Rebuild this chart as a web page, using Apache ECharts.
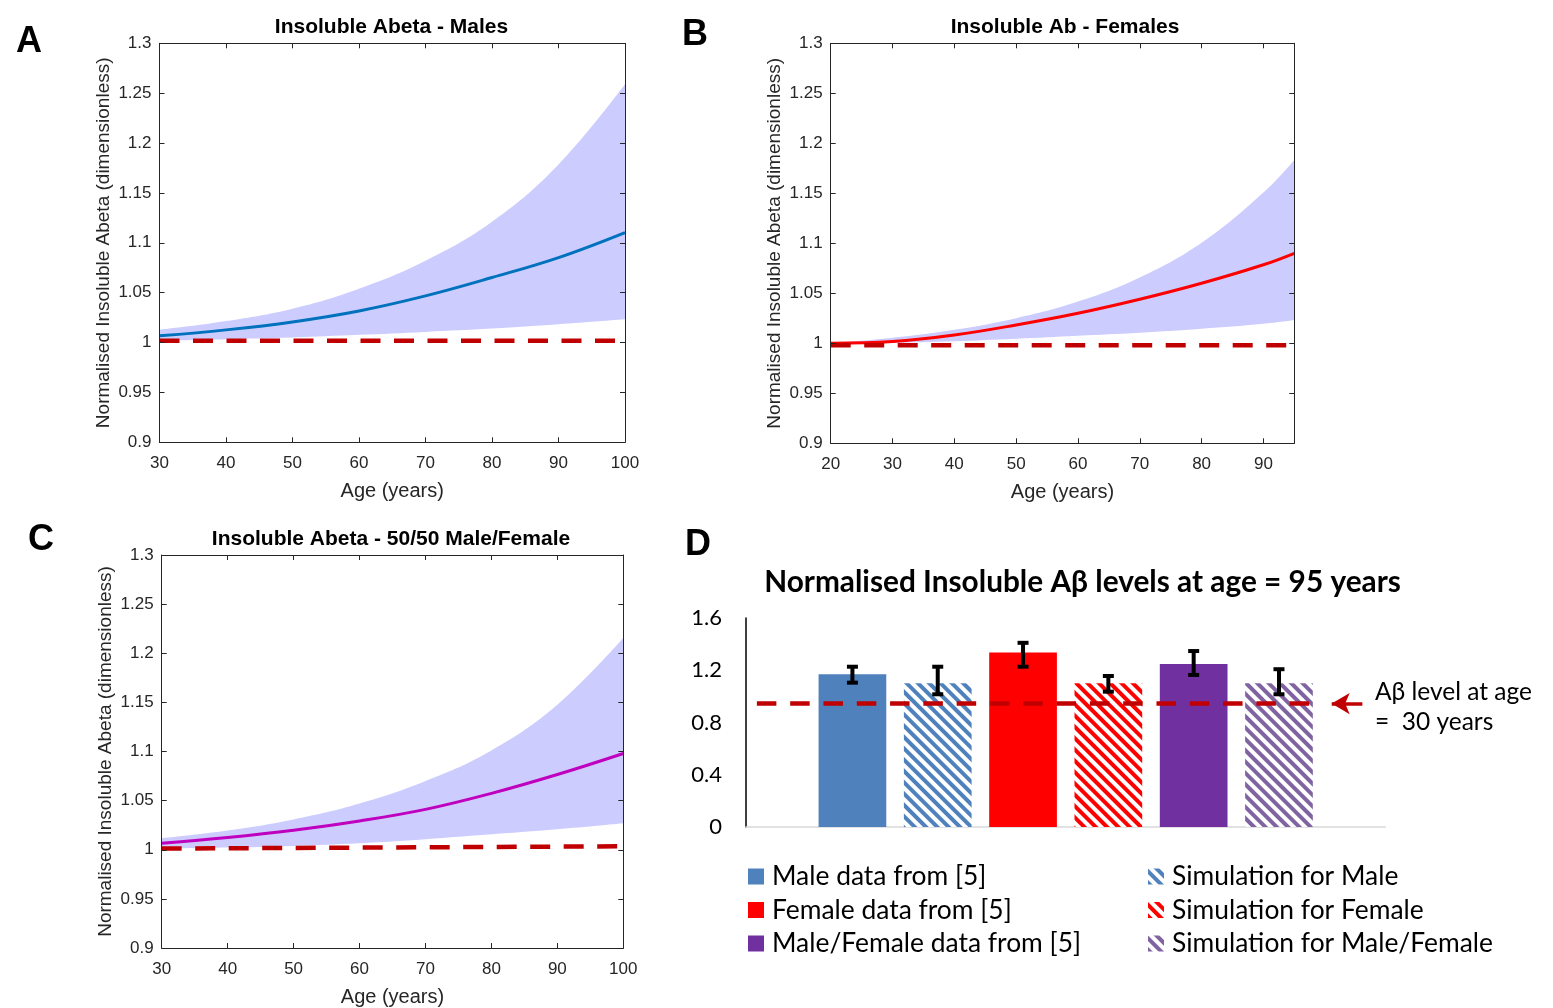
<!DOCTYPE html>
<html><head><meta charset="utf-8">
<script src="https://cdn.jsdelivr.net/npm/echarts@6/dist/echarts.min.js"></script>
<style>html,body{margin:0;padding:0;background:#fff}#c{width:1553px;height:1008px}</style>
</head><body><div id="c"></div><script>
// ---------- Panel A : Males ----------
const ageA = [30, 40, 50, 60, 70, 80, 90, 100];
const meanA = [1.0067, 1.0127, 1.0207, 1.0317, 1.0468, 1.0652, 1.0852, 1.1103];
const upperA = [1.0127, 1.0215, 1.0340, 1.0540, 1.0820, 1.1210, 1.1785, 1.2590];
const lowerA = [1.0017, 1.0033, 1.0050, 1.0077, 1.0107, 1.0140, 1.0184, 1.0234];
const refAgeA = [30, 100];
const refA = [1.0017, 1.0017];
// ---------- Panel B : Females ----------
const ageB = [20, 30, 40, 50, 60, 70, 80, 90, 95];
const meanB = [1.0000, 1.0017, 1.0083, 1.0183, 1.0300, 1.0440, 1.0600, 1.0785, 1.0900];
const upperB = [1.0000, 1.0055, 1.0135, 1.0251, 1.0417, 1.0658, 1.1005, 1.1507, 1.1833];
const lowerB = [0.9990, 1.0003, 1.0020, 1.0045, 1.0075, 1.0105, 1.0145, 1.0195, 1.0233];
const refAgeB = [20, 95];
const refB = [0.998, 0.998];
// ---------- Panel C : 50/50 ----------
const ageC = [30, 40, 50, 60, 70, 80, 90, 100];
const meanC = [1.0066, 1.0124, 1.0198, 1.0293, 1.0411, 1.0574, 1.0766, 1.0980];
const upperC = [1.0117, 1.0196, 1.0309, 1.0470, 1.0699, 1.1010, 1.1475, 1.2154];
const lowerC = [1.0012, 1.0022, 1.0039, 1.0066, 1.0107, 1.0157, 1.0208, 1.0269];
const refAgeC = [30, 100];
const refC = [1.0012, 1.0035];
// ---------- Panel D : bars at age 95 ----------
const barNames = ['Male data from [5]', 'Simulation for Male', 'Female data from [5]',
  'Simulation for Female', 'Male/Female data from [5]', 'Simulation for Male/Female'];
const barValues = [1.169, 1.100, 1.335, 1.100, 1.248, 1.100];
const errLow = [1.105, 1.016, 1.227, 1.036, 1.164, 1.016];
const errHigh = [1.227, 1.227, 1.410, 1.156, 1.347, 1.208];
const level30 = 0.945;                 // A-beta level at age 30
const levelSpan = [0.017, 0.887];      // extent of the reference line (fraction of plot width)
const arrowSpan = [0.964, 0.916];      // annotation arrow (fraction of plot width)
const dTicks = {min: 0, max: 1.6, interval: 0.4};

const AX = '#262626';
const FF = '"Liberation Sans", Arial, sans-serif';
const FD = 'Lato, "Liberation Sans", sans-serif';
const pts = (xs, ys) => xs.map((x, i) => [x, ys[i]]);

function xAxes(grid, min, max) {
  const common = {type: 'value', gridIndex: grid, min, max, interval: 10, splitLine: {show: false}, z: 10,
    axisLine: {show: true, onZero: false, lineStyle: {color: AX, width: 1}},
    axisTick: {show: true, inside: true, length: 5, lineStyle: {color: AX, width: 1}}};
  return [
    Object.assign({}, common, {position: 'bottom', name: 'Age (years)', nameLocation: 'middle', nameGap: 39,
      nameTextStyle: {fontFamily: FF, fontSize: 20, color: AX},
      axisLabel: {fontFamily: FF, fontSize: 17, color: AX, margin: 13, showMaxLabel: max % 10 === 0}}),
    Object.assign({}, common, {position: 'top', axisLabel: {show: false}})
  ];
}
function yAxes(grid) {
  const common = {type: 'value', gridIndex: grid, min: 0.9, max: 1.3, interval: 0.05, splitLine: {show: false}, z: 10,
    axisLine: {show: true, onZero: false, lineStyle: {color: AX, width: 1}},
    axisTick: {show: true, inside: true, length: 5, lineStyle: {color: AX, width: 1}}};
  return [
    Object.assign({}, common, {position: 'left', name: 'Normalised Insoluble Abeta (dimensionless)',
      nameLocation: 'middle', nameGap: 46, nameTextStyle: {fontFamily: FF, fontSize: 19, color: AX},
      axisLabel: {fontFamily: FF, fontSize: 17, color: AX, margin: 8}}),
    Object.assign({}, common, {position: 'right', axisLabel: {show: false}})
  ];
}
function panelSeries(k, ages, mean, lower, upper, refAges, refVals, color) {
  const ax = {xAxisIndex: 2 * k, yAxisIndex: 2 * k};
  const base = Object.assign({type: 'line', symbol: 'none', silent: true, animation: false, smooth: 0.4}, ax);
  return [
    // band: fill below the upper edge, then blank out below the lower edge
    Object.assign({}, base, {data: pts(ages, upper),
      lineStyle: {width: 0, opacity: 0}, areaStyle: {color: '#CCCCFF', opacity: 1, origin: 'start'}, z: 1}),
    Object.assign({}, base, {data: pts(ages, lower),
      lineStyle: {width: 0, opacity: 0}, areaStyle: {color: '#FFFFFF', opacity: 1, origin: 'start'}, z: 2}),
    Object.assign({}, base, {data: pts(ages, mean), lineStyle: {color, width: 3}, z: 3}),
    Object.assign({}, base, {smooth: false, data: pts(refAges, refVals),
      lineStyle: {color: '#C00000', width: 4.5, type: [20, 13.5], cap: 'butt'}, z: 4})
  ];
}

const solidCol = ['#4F81BD', '#FF0000', '#7030A0'];
const hatchCol = ['#4F81BD', '#FF0000', '#8064A2'];
const barSeries = barNames.map((name, i) => {
  const g = Math.floor(i / 2), hatched = i % 2 === 1;
  const itemStyle = hatched
    ? {color: '#FFFFFF', decal: {symbol: 'rect', symbolSize: 1, color: hatchCol[g],
        dashArrayX: [1, 0], dashArrayY: [4, 4], rotation: Math.PI / 4}}
    : {color: solidCol[g]};
  return {type: 'bar', name, xAxisIndex: 6, yAxisIndex: 6, data: [barValues[i]],
    barGap: '26%', barCategoryGap: '22.7%', itemStyle, z: 2, animation: false};
});

const errData = barNames.map((n, i) => [0, errLow[i], errHigh[i], i]);
const errSeries = {
  type: 'custom', xAxisIndex: 6, yAxisIndex: 6, z: 6, animation: false, silent: true,
  encode: {x: 0, y: [1, 2]}, data: errData,
  renderItem(params, api) {
    const idx = api.value(3);
    const layout = api.barLayout({count: barNames.length, barGap: '26%', barCategoryGap: '22.7%'});
    const hi = api.coord([api.value(0), api.value(2)]);
    const lo = api.coord([api.value(0), api.value(1)]);
    const x = hi[0] + layout[idx].offsetCenter;
    const cap = 5.5;
    const st = {stroke: '#000', lineWidth: 4};
    return {type: 'group', children: [
      {type: 'line', shape: {x1: x, y1: hi[1], x2: x, y2: lo[1]}, style: st},
      {type: 'line', shape: {x1: x - cap, y1: hi[1], x2: x + cap, y2: hi[1]}, style: st},
      {type: 'line', shape: {x1: x - cap, y1: lo[1], x2: x + cap, y2: lo[1]}, style: st}
    ]};
  }
};

const levelSeries = {
  type: 'line', xAxisIndex: 7, yAxisIndex: 6, symbol: 'none', silent: true, animation: false, z: 5,
  data: levelSpan.map(f => [f, level30]),
  lineStyle: {color: '#C00000', width: 4.5, type: [19.5, 13.8], cap: 'butt'},
  markLine: {silent: true, animation: false, symbol: ['none', 'arrow'], symbolSize: [16, 18],
    label: {show: false}, lineStyle: {color: '#C00000', width: 3.5, type: 'solid'},
    data: [[{coord: [arrowSpan[0], level30]}, {coord: [arrowSpan[1], level30]}]]}
};

const legendCommon = {top: 863.5, orient: 'vertical', padding: 0, itemWidth: 16, itemHeight: 16, itemGap: 7.5,
  icon: 'rect', selectedMode: false,
  textStyle: {fontFamily: FD, fontSize: 26.4, lineHeight: 24, color: '#000', padding: [0, 0, 0, 3]}};

const option = {
  backgroundColor: '#fff',
  animation: false,
  grid: [
    {left: 159.5, right: 1553 - 625, top: 43.3, bottom: 1008 - 442.3},
    {left: 830.7, right: 1553 - 1294.3, top: 43.3, bottom: 1008 - 443.3},
    {left: 161.7, right: 1553 - 623.3, top: 555, bottom: 1008 - 949},
    {left: 746, right: 1553 - 1385.4, top: 618, bottom: 1008 - 827}
  ],
  xAxis: [
    ...xAxes(0, 30, 100), ...xAxes(1, 20, 95), ...xAxes(2, 30, 100),
    {type: 'category', gridIndex: 3, data: ['age 95'], axisLabel: {show: false}, axisTick: {show: false},
      axisLine: {show: true, lineStyle: {color: '#D9D9D9', width: 1.5}}},
    {type: 'value', gridIndex: 3, min: 0, max: 1, show: false}
  ],
  yAxis: [
    ...yAxes(0), ...yAxes(1), ...yAxes(2),
    {type: 'value', gridIndex: 3, min: dTicks.min, max: dTicks.max, interval: dTicks.interval,
      splitLine: {show: false}, axisTick: {show: false},
      axisLine: {show: true, lineStyle: {color: '#000', width: 1.5}},
      axisLabel: {fontFamily: FD, fontSize: 22, color: '#000', margin: 24}}
  ],
  legend: [
    Object.assign({}, legendCommon, {left: 748, data: [barNames[0], barNames[2], barNames[4]]}),
    Object.assign({}, legendCommon, {left: 1148, data: [barNames[1], barNames[3], barNames[5]]})
  ],
  graphic: [
    {type: 'text', x: 29, y: 42, style: {text: 'A', font: 'bold 36px ' + FF, fill: '#000', textAlign: 'center', textVerticalAlign: 'middle'}},
    {type: 'text', x: 695, y: 35, style: {text: 'B', font: 'bold 36px ' + FF, fill: '#000', textAlign: 'center', textVerticalAlign: 'middle'}},
    {type: 'text', x: 41, y: 540, style: {text: 'C', font: 'bold 36px ' + FF, fill: '#000', textAlign: 'center', textVerticalAlign: 'middle'}},
    {type: 'text', x: 698, y: 545, style: {text: 'D', font: 'bold 36px ' + FF, fill: '#000', textAlign: 'center', textVerticalAlign: 'middle'}},
    {type: 'text', x: 391.5, y: 27, style: {text: 'Insoluble Abeta - Males', font: 'bold 21px ' + FF, fill: '#000', textAlign: 'center', textVerticalAlign: 'middle'}},
    {type: 'text', x: 1065, y: 27, style: {text: 'Insoluble Ab - Females', font: 'bold 21px ' + FF, fill: '#000', textAlign: 'center', textVerticalAlign: 'middle'}},
    {type: 'text', x: 391, y: 539, style: {text: 'Insoluble Abeta - 50/50 Male/Female', font: 'bold 21px ' + FF, fill: '#000', textAlign: 'center', textVerticalAlign: 'middle'}},
    {type: 'text', x: 1082.5, y: 582, style: {text: 'Normalised Insoluble Aβ levels at age = 95 years', font: 'bold 29.8px ' + FD, fill: '#000', textAlign: 'center', textVerticalAlign: 'middle'}},
    {type: 'text', x: 1375, y: 692, style: {text: 'Aβ level at age', font: '24.5px ' + FD, fill: '#000', textAlign: 'left', textVerticalAlign: 'middle'}},
    {type: 'text', x: 1375, y: 722, style: {text: '=  30 years', font: '24.5px ' + FD, fill: '#000', textAlign: 'left', textVerticalAlign: 'middle'}}
  ],
  series: [
    ...panelSeries(0, ageA, meanA, lowerA, upperA, refAgeA, refA, '#0072BD'),
    ...panelSeries(1, ageB, meanB, lowerB, upperB, refAgeB, refB, '#FF0000'),
    ...panelSeries(2, ageC, meanC, lowerC, upperC, refAgeC, refC, '#BF00BF'),
    ...barSeries, errSeries, levelSeries
  ]
};
const chart = echarts.init(document.getElementById('c'), null, {renderer: 'canvas'});
chart.setOption(option);
</script></body></html>
